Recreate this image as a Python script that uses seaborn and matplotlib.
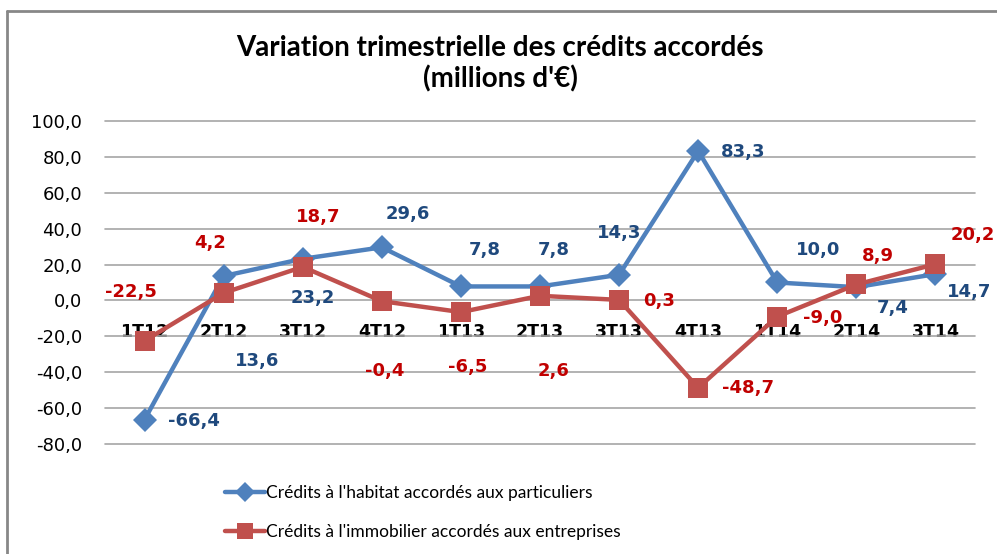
import pandas as pd
import seaborn as sns
import matplotlib
matplotlib.use("Agg")
import matplotlib.pyplot as plt
from matplotlib.lines import Line2D

# --- data -----------------------------------------------------------
quarters = ["1T12", "2T12", "3T12", "4T12", "1T13", "2T13", "3T13",
            "4T13", "1T14", "2T14", "3T14"]
habitat = [-66.4, 13.6, 23.2, 29.6, 7.8, 7.8, 14.3, 83.3, 10.0, 7.4, 14.7]
immo = [-22.5, 4.2, 18.7, -0.4, -6.5, 2.6, 0.3, -48.7, -9.0, 8.9, 20.2]
serie_hab = "Crédits à l'habitat accordés aux particuliers"
serie_immo = "Crédits à l'immobilier accordés aux entreprises"
yticks = [-80, -60, -40, -20, 0, 20, 40, 60, 80, 100]

# label offsets (pixels, image coords: +x right, +y down)
off_hab = [(49, 1), (33, 85), (10, 39), (26, -33), (24, -36), (14, -36),
           (0, -42), (45, 1), (41, -32), (36, 21), (34, 18)]
off_immo = [(-14, -49), (-14, -50), (15, -50), (3, 70), (7, 55), (14, 75),
            (40, 1), (50, 0), (45, 1), (22, -28), (37, -29)]

df = pd.DataFrame({
    "trimestre": quarters * 2,
    "valeur": habitat + immo,
    "serie": [serie_hab] * len(quarters) + [serie_immo] * len(quarters),
})

sns.set_style("white")
plt.rcParams["font.family"] = ["Lato", "DejaVu Sans"]
plt.rcParams["text.color"] = "black"
plt.rcParams["xtick.color"] = "black"
plt.rcParams["ytick.color"] = "black"
wide = ["DejaVu Sans"]

blue, red = "#4F81BD", "#C0504D"
blue_txt, red_txt = "#1F497D", "#C00000"

fig = plt.figure(figsize=(9.97, 5.54), dpi=100)
ax = fig.add_axes([105 / 997, 1 - 444 / 554, 870 / 997, 323 / 554])

sns.lineplot(data=df, x="trimestre", y="valeur", hue="serie", style="serie",
             markers={serie_hab: "D", serie_immo: "s"}, dashes=False,
             palette={serie_hab: blue, serie_immo: red}, sort=False,
             linewidth=3.2, ax=ax, legend=False)
for ln, ms in zip(ax.lines, [12.5, 14]):
    ln.set_markersize(ms)
    ln.set_markeredgewidth(0)
    ln.set_clip_on(False)

ax.set_xlim(-0.5, len(quarters) - 0.5)
ax.set_ylim(-80, 100)
ax.set_yticks(yticks)
ax.set_yticklabels([f"{v:.1f}".replace(".", ",") for v in yticks],
                   fontsize=13, family=wide)
ax.tick_params(axis="y", length=0, pad=16.5)
ax.grid(axis="y", color="#A6A6A6", linewidth=1.2, clip_on=False)
for s in ["top", "right", "left"]:
    ax.spines[s].set_visible(False)
ax.spines["bottom"].set_position(("data", 0))
ax.spines["bottom"].set_visible(False)
ax.set_xticks(range(len(quarters)))
ax.set_xticklabels(quarters, fontsize=12.5, fontweight="bold", family=wide)
ax.tick_params(axis="x", length=0, pad=16)
ax.set_xlabel("")
ax.set_ylabel("")

for vals, offs, col in [(habitat, off_hab, blue_txt), (immo, off_immo, red_txt)]:
    for i, (v, o) in enumerate(zip(vals, offs)):
        ax.annotate(f"{v:.1f}".replace(".", ","), (i, v), xytext=(o[0], -o[1]),
                    textcoords="offset pixels", ha="center", va="center",
                    fontsize=13, fontweight="bold", color=col, family=wide)

fig.text(500 / 997, 1 - 48 / 554, "Variation trimestrielle des crédits accordés",
         ha="center", va="center", fontsize=20, fontweight="bold")
fig.text(500 / 997, 1 - 79 / 554, "(millions d'€)",
         ha="center", va="center", fontsize=20, fontweight="bold")

handles = [Line2D([], [], color=blue, lw=3.2, marker="D", ms=10, mew=0),
           Line2D([], [], color=red, lw=3.2, marker="s", ms=12, mew=0)]
fig.legend(handles, [serie_hab, serie_immo], loc="upper left",
           bbox_to_anchor=(216 / 997, 1 - 476 / 554), frameon=False,
           fontsize=12.5, handlelength=2.3, handletextpad=0.1,
           labelspacing=1.35, borderpad=0)

# chart frame
fig.add_artist(Line2D([7 / 997, 7 / 997], [0, 1 - 11 / 554],
                      color="#878787", lw=2, transform=fig.transFigure))
fig.add_artist(Line2D([7 / 997, 1], [1 - 11 / 554, 1 - 11 / 554],
                      color="#878787", lw=2, transform=fig.transFigure))

fig.savefig("out.png", dpi=100)
